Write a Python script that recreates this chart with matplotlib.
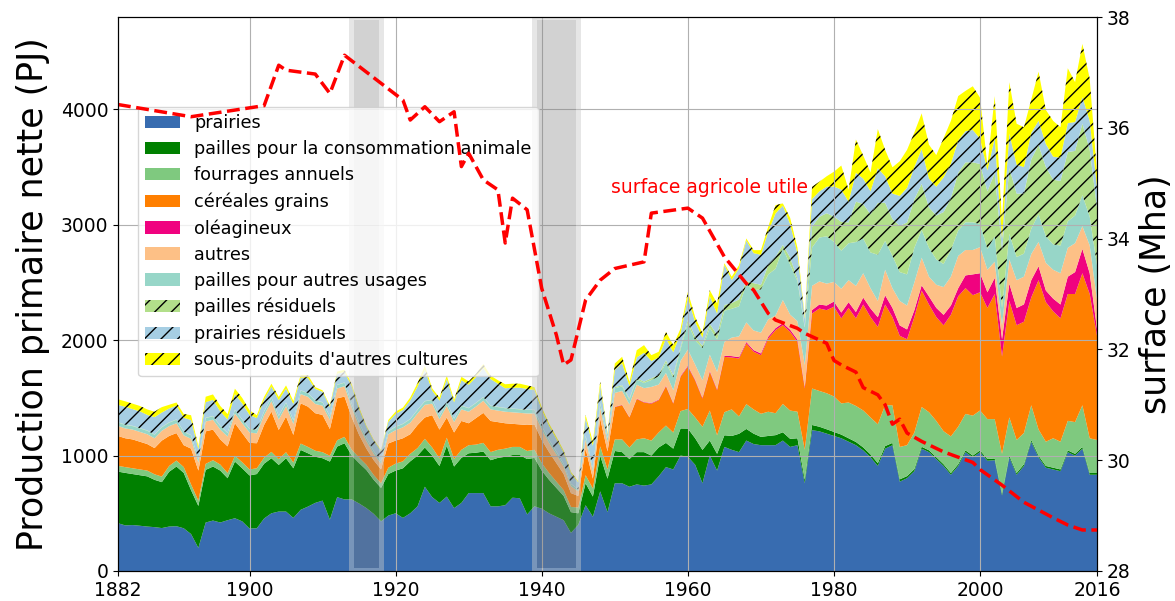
import matplotlib
matplotlib.use("Agg")
import matplotlib.pyplot as plt
import matplotlib.transforms as mtransforms
from matplotlib.patches import Rectangle
import numpy as np

# ---------------- data ----------------
years = np.arange(1882, 2017)

prairies = [
    414, 395, 398, 392, 385, 380, 372, 385, 388, 370,
    320, 200, 420, 437, 420, 440, 457, 430, 368, 370,
    455, 500, 515, 515, 460, 530, 558, 590, 610, 445,
    640, 620, 620, 585, 545, 495, 430, 480, 500, 460,
    500, 560, 730, 640, 590, 645, 545, 590, 675, 675,
    675, 560, 560, 570, 635, 630, 490, 560, 540, 500,
    470, 440, 330, 400, 570, 470, 690, 510, 760, 760,
    730, 750, 740, 750, 820, 900, 880, 1000, 990, 920,
    760, 1000, 870, 1075, 1050, 1030, 1130, 1100, 1090, 1090,
    1090, 1130, 1075, 1090, 760, 1220, 1210, 1190, 1170, 1150,
    1120, 1090, 1045, 985, 910, 1060, 1090, 774, 804, 865,
    1060, 1030, 970, 910, 834, 910, 1030, 985, 1030, 955,
    960, 654, 985, 834, 910, 1120, 985, 895, 880, 865,
    1030, 1000, 1060, 834, 834]

pailles_anim = [
    447, 455, 442, 438, 435, 410, 398, 475, 517, 480,
    380, 364, 456, 468, 450, 364, 491, 460, 460, 470,
    475, 477, 404, 462, 430, 519, 462, 400, 367, 503,
    438, 487, 380, 350, 330, 295, 290, 360, 370, 430,
    450, 440, 340, 360, 320, 440, 360, 390, 345, 350,
    360, 400, 420, 420, 370, 375, 480, 420, 330, 290,
    250, 210, 180, 100, 190, 175, 310, 290, 280, 270,
    240, 280, 290, 250, 250, 210, 180, 235, 244, 230,
    289, 130, 145, 101, 120, 159, 101, 90, 72, 80,
    87, 72, 70, 60, 30, 45, 40, 38, 35, 32,
    30, 28, 26, 25, 24, 22, 20, 20, 18, 18,
    16, 16, 16, 15, 15, 15, 15, 15, 15, 15,
    15, 15, 15, 15, 15, 15, 15, 15, 15, 15,
    15, 15, 15, 15, 15]

fourrages = [
    50, 50, 50, 50, 50, 48, 48, 50, 52, 50,
    50, 45, 52, 55, 52, 45, 50, 52, 52, 50,
    52, 55, 50, 52, 50, 55, 55, 52, 52, 50,
    55, 55, 50, 48, 45, 42, 40, 55, 60, 60,
    65, 65, 75, 70, 65, 70, 65, 70, 70, 70,
    75, 70, 70, 70, 70, 70, 70, 70, 65, 60,
    55, 50, 45, 50, 70, 70, 80, 80, 100, 110,
    100, 110, 120, 130, 130, 150, 140, 150, 170, 180,
    200, 260, 160, 200, 230, 150, 215, 210, 200, 210,
    190, 245, 245, 230, 260, 316, 310, 312, 307, 270,
    310, 312, 320, 320, 337, 354, 326, 281, 268, 317,
    345, 330, 314, 286, 317, 325, 316, 346, 346, 346,
    341, 346, 331, 286, 271, 301, 226, 210, 255, 240,
    256, 275, 361, 301, 286]

cereales = [
    259, 250, 250, 240, 230, 227, 312, 260, 238, 190,
    310, 261, 282, 265, 218, 231, 282, 253, 230, 217,
    284, 349, 253, 309, 239, 349, 349, 325, 323, 232,
    363, 349, 280, 197, 140, 128, 120, 210, 200, 200,
    170, 200, 185, 280, 250, 175, 230, 250, 190, 230,
    260, 270, 240, 220, 200, 195, 225, 220, 200, 180,
    160, 140, 120, 100, 230, 85, 240, 155, 280, 297,
    260, 350, 310, 320, 280, 340, 250, 298, 366, 320,
    245, 335, 391, 479, 450, 502, 525, 500, 508, 634,
    720, 683, 682, 605, 531, 650, 714, 720, 778, 737,
    819, 759, 918, 870, 843, 873, 764, 963, 918, 1000,
    1009, 933, 900, 918, 1054, 1130, 1090, 1044, 1024, 963,
    1084, 843, 1009, 994, 964, 934, 1294, 1210, 1100, 1069,
    1099, 1110, 1144, 1250, 903]

oleagineux = [
    0, 0, 0, 0, 0, 0, 0, 0, 0, 0,
    0, 0, 0, 0, 0, 0, 0, 0, 0, 0,
    0, 0, 0, 0, 0, 0, 0, 0, 0, 0,
    0, 0, 0, 0, 0, 0, 0, 0, 0, 0,
    0, 0, 0, 0, 0, 0, 0, 0, 0, 0,
    0, 0, 0, 0, 0, 0, 0, 0, 0, 0,
    0, 0, 0, 0, 0, 0, 2, 2, 3, 3,
    3, 4, 4, 5, 5, 6, 6, 7, 8, 8,
    8, 9, 9, 10, 12, 12, 13, 14, 15, 16,
    17, 18, 19, 20, 15, 30, 35, 40, 45, 50,
    50, 55, 60, 75, 85, 80, 80, 90, 85, 60,
    45, 70, 80, 90, 80, 70, 110, 180, 165, 136,
    140, 150, 150, 150, 150, 150, 120, 100, 110, 120,
    150, 190, 211, 180, 60]

autres = [
    87, 85, 85, 85, 85, 85, 85, 85, 85, 85,
    85, 70, 85, 85, 85, 85, 85, 85, 90, 85,
    85, 90, 90, 90, 95, 80, 85, 80, 80, 80,
    85, 90, 85, 75, 65, 55, 50, 80, 90, 95,
    100, 100, 110, 100, 90, 100, 90, 100, 100, 100,
    105, 100, 100, 100, 100, 100, 100, 95, 90, 80,
    75, 65, 60, 40, 80, 60, 90, 80, 120, 120,
    110, 120, 120, 140, 130, 110, 110, 130, 140, 130,
    150, 140, 150, 120, 160, 180, 170, 170, 180, 150,
    110, 200, 130, 160, 190, 210, 200, 190, 170, 206,
    191, 226, 211, 175, 141, 221, 170, 212, 207, 240,
    240, 171, 200, 241, 250, 280, 220, 211, 226, 195,
    140, 120, 211, 241, 240, 226, 211, 240, 250, 271,
    250, 250, 196, 241, 250]

pailles_autres = [
    29, 30, 30, 30, 30, 30, 30, 30, 30, 30,
    30, 25, 30, 30, 30, 30, 30, 30, 30, 30,
    30, 30, 30, 30, 30, 30, 30, 28, 28, 28,
    30, 30, 30, 28, 25, 22, 20, 25, 28, 28,
    30, 30, 30, 30, 28, 30, 28, 30, 30, 30,
    30, 30, 30, 30, 30, 30, 30, 30, 28, 25,
    22, 20, 18, 15, 30, 25, 35, 30, 40, 40,
    40, 45, 45, 60, 70, 90, 110, 100, 230, 210,
    280, 232, 280, 270, 250, 260, 330, 350, 375, 390,
    404, 448, 434, 347, 318, 332, 380, 410, 346, 330,
    320, 380, 300, 310, 400, 250, 280, 250, 270, 300,
    240, 250, 220, 200, 230, 220, 240, 240, 200, 180,
    220, 150, 220, 200, 200, 220, 240, 230, 220, 240,
    230, 240, 270, 250, 300]

pailles_resid = [
    3, 3, 3, 3, 3, 3, 3, 3, 3, 3,
    3, 3, 3, 3, 3, 3, 3, 3, 3, 3,
    3, 3, 3, 3, 3, 3, 3, 3, 3, 3,
    3, 3, 3, 3, 3, 3, 3, 3, 3, 3,
    3, 3, 3, 3, 3, 3, 3, 3, 3, 3,
    3, 3, 3, 3, 3, 3, 3, 3, 3, 3,
    3, 3, 3, 3, 5, 5, 8, 5, 10, 10,
    10, 12, 12, 15, 15, 20, 20, 20, 30, 30,
    20, 35, 40, 50, 50, 60, 30, 60, 40, 80,
    104, 30, 60, 20, 10, 180, 180, 200, 220, 250,
    180, 350, 300, 330, 450, 330, 320, 400, 450, 420,
    400, 350, 380, 450, 450, 500, 520, 520, 520, 500,
    550, 500, 570, 550, 520, 600, 600, 600, 560, 560,
    600, 560, 620, 580, 500]

prairies_resid = [
    150, 155, 145, 145, 135, 150, 125, 120, 120, 120,
    130, 90, 135, 140, 125, 115, 135, 140, 120, 100,
    100, 95, 135, 120, 140, 110, 130, 100, 90, 80,
    95, 90, 150, 115, 95, 90, 88, 80, 110, 120,
    160, 200, 270, 80, 130, 200, 140, 220, 200, 220,
    250, 230, 200, 170, 180, 185, 180, 170, 140, 120,
    110, 100, 90, 60, 150, 195, 150, 30, 150, 190,
    110, 180, 250, 150, 150, 190, 200, 120, 190, 130,
    70, 240, 186, 347, 200, 270, 350, 260, 260, 290,
    376, 340, 290, 220, 70, 240, 220, 230, 260, 280,
    180, 250, 220, 200, 300, 230, 220, 260, 300, 280,
    300, 250, 250, 300, 300, 280, 270, 280, 220, 180,
    300, 100, 300, 250, 230, 230, 210, 200, 200, 200,
    250, 250, 230, 250, 180]

sous_produits = [
    49, 47, 47, 47, 47, 47, 47, 32, 27, 32,
    42, 22, 47, 47, 47, 47, 47, 47, 40, 25,
    25, 24, 28, 27, 26, 22, 26, 15, 12, 12,
    19, 19, 20, 17, 10, 8, 7, 15, 20, 20,
    25, 30, 35, 20, 25, 30, 22, 30, 30, 30,
    35, 30, 30, 35, 35, 35, 30, 25, 22, 20,
    18, 15, 12, 10, 27, 34, 34, 10, 55, 56,
    36, 62, 66, 50, 49, 56, 61, 41, 50, 42,
    38, 52, 87, 15, 28, 27, 17, 26, 40, 43,
    72, 19, 55, 48, 18, 106, 84, 90, 129, 208,
    103, 289, 200, 163, 339, 230, 228, 300, 329, 300,
    310, 294, 274, 340, 370, 385, 349, 379, 354, 43,
    365, 154, 445, 355, 345, 289, 425, 295, 310, 265,
    476, 346, 460, 365, 125]

labels = ["prairies", "pailles pour la consommation animale", "fourrages annuels",
          "céréales grains", "oléagineux", "autres", "pailles pour autres usages",
          "pailles résiduels", "prairies résiduels", "sous-produits d'autres cultures"]

surf_years = [1882, 1892, 1902, 1904, 1905, 1909, 1911, 1913, 1921, 1922, 1924,
              1926, 1928, 1929, 1930, 1932, 1934, 1935, 1936, 1938, 1940, 1942,
              1943, 1944, 1946, 1948, 1950, 1954, 1955, 1960, 1962, 1965, 1968,
              1969, 1971, 1972, 1975, 1976, 1979, 1980, 1981, 1983, 1984, 1986,
              1987, 1988, 1989, 1990, 1992, 1995, 1999, 2000, 2003, 2006, 2010,
              2012, 2014, 2016]
surf_vals = [36.42, 36.20, 36.40, 37.13, 37.04, 36.97, 36.62, 37.31, 36.50, 36.14, 36.38,
             36.11, 36.29, 35.30, 35.54, 35.06, 34.88, 33.92, 34.73, 34.52, 33.10, 32.26,
             31.72, 31.81, 32.89, 33.25, 33.46, 33.58, 34.46, 34.55, 34.37, 33.67, 33.19,
             33.07, 32.65, 32.53, 32.38, 32.29, 32.11, 31.80, 31.72, 31.59, 31.31, 31.18,
             31.00, 30.65, 30.74, 30.49, 30.34, 30.15, 29.96, 29.83, 29.55, 29.24, 28.96,
             28.83, 28.74, 28.74]

xticks = [1882, 1900, 1920, 1940, 1960, 1980, 2000, 2016]
wars = [(1914, 1918), (1939, 1945)]

# ---------------- styles ----------------
colors = ["#386cb0", "#008000", "#7fc97f", "#ff7f00", "#f0027f", "#fdc086",
          "#97d6c8", "#b2df8a", "#a6cee3", "#ffff00"]
hatches = [None, None, None, None, None, None, None, "//", "//", "//"]

series = [prairies, pailles_anim, fourrages, cereales, oleagineux, autres,
          pailles_autres, pailles_resid, prairies_resid, sous_produits]

fig = plt.figure(figsize=(11.75, 6.01), dpi=100)
ax = fig.add_axes([0.10043, 0.04992, 0.83319, 0.92179])

base = np.zeros(len(years))
for vals, lab, col, h in zip(series, labels, colors, hatches):
    top = base + np.asarray(vals, dtype=float)
    if h is None:
        ax.fill_between(years, base, top, facecolor=col, edgecolor="none",
                        linewidth=0, label=lab, zorder=1)
    else:
        ax.fill_between(years, base, top, facecolor=col, edgecolor="black",
                        linewidth=0, hatch=h, label=lab, zorder=1)
    base = top

# war bands (inner grey with lighter border)
trans = mtransforms.blended_transform_factory(ax.transData, ax.transAxes)
edge_w = 0.65
for (a, b) in wars:
    inner = Rectangle((a + 0.3, 0.006), (b - a) - 0.6, 0.988, transform=trans,
                      facecolor="grey", alpha=0.35, linewidth=0, zorder=2)
    ax.add_patch(inner)
    for (x0, w, y0, hgt) in [(a + 0.3 - edge_w, edge_w, 0, 1),
                             (b - 0.3, edge_w, 0, 1),
                             (a + 0.3, (b - a) - 0.6, 0, 0.006),
                             (a + 0.3, (b - a) - 0.6, 0.994, 0.006)]:
        ax.add_patch(Rectangle((x0, y0), w, hgt, transform=trans,
                               facecolor="#c8c8c8", alpha=0.45, linewidth=0, zorder=2))

ax.set_xlim(1882, 2016)
ax.set_ylim(0, 4800)
ax.set_xticks(xticks)
ax.set_yticks([0, 1000, 2000, 3000, 4000])
ax.tick_params(labelsize=13.5)
ax.grid(True, color="#b0b0b0", linewidth=0.8)
ax.set_ylabel("Production primaire nette (PJ)", fontsize=25, labelpad=8)

ax.text(1949.5, 3325, "surface agricole utile", color="red", fontsize=13.5,
        va="center", ha="left")

leg = ax.legend(loc="upper left", bbox_to_anchor=(0.0204, 0.8375), borderaxespad=0,
                fontsize=12.7, labelspacing=0.46, framealpha=0.8, handlelength=2.0,
                handleheight=0.7)
leg.set_zorder(5)

ax2 = ax.twinx()
ax2.plot(surf_years, surf_vals, color="red", linestyle="--", linewidth=2.5)
ax2.set_ylim(28, 38)
ax2.set_yticks([28, 30, 32, 34, 36, 38])
ax2.tick_params(labelsize=13.5)
ax2.set_ylabel("surface (Mha)", fontsize=25, labelpad=6)
ax2.set_xlim(1882, 2016)

fig.savefig("out.png", dpi=100)
